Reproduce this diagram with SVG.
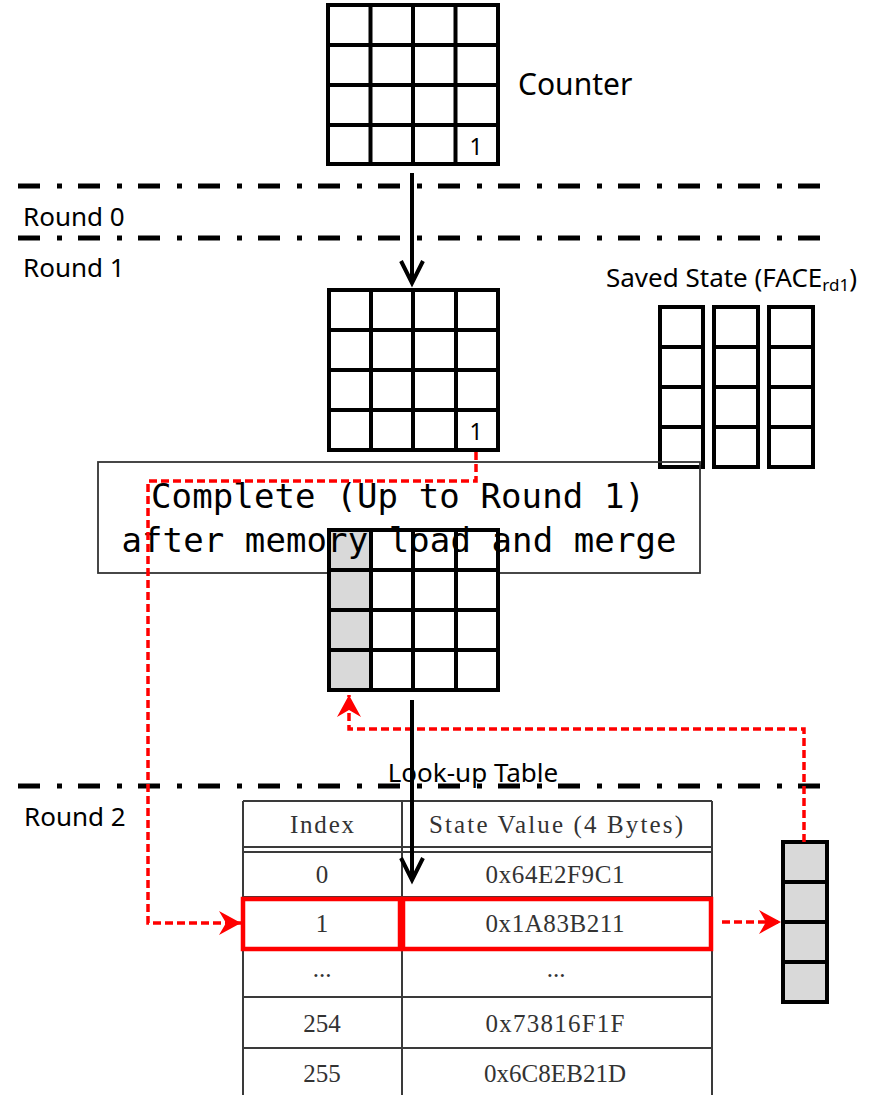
<svg xmlns="http://www.w3.org/2000/svg" width="879" height="1095" viewBox="0 0 879 1095">
<style>
.sep{stroke:#000;stroke-width:5;stroke-dasharray:22 17 5 16;fill:none}
.lbl{font-family:"Noto Sans","Open Sans","Liberation Sans",sans-serif;fill:#000}
.grid{fill:#fff;stroke:#000;stroke-width:4}
.gl{stroke:#000;stroke-width:4;fill:none}
.gray{fill:#d9d9d9}
.mono{font-family:"DejaVu Sans Mono","Liberation Mono",monospace;font-size:34px;fill:#000;text-anchor:middle}
.tl{stroke:#3a3a3a;stroke-width:2;fill:none}
.tt{font-family:"Liberation Serif","DejaVu Serif",serif;font-size:25px;fill:#333;text-anchor:middle}
.red{stroke:#ff0000;stroke-width:3.5;stroke-dasharray:8 4;fill:none;marker-end:url(#ra)}
.blk{stroke:#000;stroke-width:4;fill:none;marker-end:url(#ba)}
.hl{fill:none;stroke:#ff0000;stroke-width:4.5}
</style>
<defs>
<marker id="ba" markerUnits="userSpaceOnUse" viewBox="-30 -15 32 30" markerWidth="32" markerHeight="30" refX="0" refY="0" orient="auto" overflow="visible">
<path d="M-22,-11 L0,0 L-22,11" fill="none" stroke="#000" stroke-width="4"/>
</marker>
<marker id="ra" markerUnits="userSpaceOnUse" viewBox="-30 -15 32 30" markerWidth="32" markerHeight="30" refX="0" refY="0" orient="auto" overflow="visible">
<path d="M0,0 L-22,-12 L-15,0 L-22,12 Z" fill="#ff0000"/>
</marker>
</defs>
<rect width="879" height="1095" fill="#fff"/>

<g id="separators">
<line class="sep" x1="18" y1="186" x2="820" y2="186"/>
<line class="sep" x1="18" y1="238" x2="820" y2="238"/>
<line class="sep" x1="18" y1="786" x2="820" y2="786"/>
</g>

<g id="labels">
<text class="lbl" x="23" y="226" font-size="26">Round 0</text>
<text class="lbl" x="23" y="277" font-size="26">Round 1</text>
<text class="lbl" x="24" y="826" font-size="26">Round 2</text>
</g>

<g id="counter">
<rect class="grid" x="328" y="5" width="170" height="159"/>
<path class="gl" d="M370.5,5V164M413,5V164M455.5,5V164M328,45H498M328,85H498M328,125H498"/>
<text class="lbl" x="476" y="155" font-size="23" text-anchor="middle">1</text>
<text class="lbl" x="518" y="95" font-size="30">Counter</text>
</g>

<g id="state-round1">
<rect class="grid" x="329" y="290" width="169" height="160"/>
<path class="gl" d="M371,290V450M413,290V450M456,290V450M329,330H498M329,370H498M329,410H498"/>
<text class="lbl" x="476" y="440" font-size="23" text-anchor="middle">1</text>
</g>

<g id="saved-state">
<text class="lbl" x="606" y="287" font-size="26">Saved State (FACE<tspan font-size="17" dy="4">rd1</tspan><tspan dy="-4">)</tspan></text>
<rect class="grid" x="660" y="307" width="43" height="160"/>
<path class="gl" d="M660,347H703M660,387H703M660,427H703"/>
<rect class="grid" x="714" y="307" width="44" height="160"/>
<path class="gl" d="M714,347H758M714,387H758M714,427H758"/>
<rect class="grid" x="769" y="307" width="44" height="160"/>
<path class="gl" d="M769,347H813M769,387H813M769,427H813"/>
</g>

<g id="complete-box">
<rect x="98" y="462" width="602" height="111" fill="none" stroke="#333" stroke-width="1.8"/>
</g>

<g id="state-merged">
<rect class="grid" x="329" y="530" width="169" height="160"/>
<rect class="gray" x="329" y="530" width="42" height="160"/>
<path class="gl" d="M329,530H498V690H329ZM371,530V690M413,530V690M456,530V690M329,570H498M329,610H498M329,650H498"/>
</g>

<g id="complete-text">
<text class="mono" x="398" y="508" textLength="494" lengthAdjust="spacing">Complete (Up to Round 1)</text>
<text class="mono" x="399" y="552" textLength="555" lengthAdjust="spacing">after memory load and merge</text>
</g>

<g id="lookup-table">
<text class="lbl" x="473" y="782" font-size="26" text-anchor="middle">Look-up Table</text>
<path class="tl" d="M243,801V1100M402,801V1100M712,801V1100M243,801H712M243,847H712M243,852H712M243,897H712M243,948H712M243,997H712M243,1048H712"/>
<text class="tt" x="322" y="833" textLength="64" lengthAdjust="spacing">Index</text>
<text class="tt" x="556" y="833" textLength="254" lengthAdjust="spacing">State Value (4 Bytes)</text>
<text class="tt" x="322" y="883">0</text>
<text class="tt" x="555" y="883" textLength="139" lengthAdjust="spacing">0x64E2F9C1</text>
<text class="tt" x="322" y="932">1</text>
<text class="tt" x="555" y="932" textLength="139" lengthAdjust="spacing">0x1A83B211</text>
<text class="tt" x="322" y="977" fill="#999">...</text>
<text class="tt" x="556" y="977" fill="#999">...</text>
<text class="tt" x="322" y="1032">254</text>
<text class="tt" x="555" y="1032" textLength="139" lengthAdjust="spacing">0x73816F1F</text>
<text class="tt" x="322" y="1082">255</text>
<text class="tt" x="555" y="1082" textLength="142" lengthAdjust="spacing">0x6C8EB21D</text>
<rect class="hl" x="243" y="899" width="157" height="50"/>
<rect class="hl" x="403" y="899" width="308" height="50"/>
</g>

<g id="output-word">
<rect class="grid" x="783" y="842" width="44" height="160" style="fill:#d9d9d9"/>
<path class="gl" d="M783,882H827M783,922H827M783,962H827"/>
</g>

<g id="connectors">
<path class="red" d="M476,452V481H148V923H241"/>
<path class="red" d="M804,842V729H349V695"/>
<path class="red" d="M722,922H781"/>
<line class="blk" x1="412" y1="173" x2="412" y2="283"/>
<line class="blk" x1="412" y1="700" x2="412" y2="880"/>
</g>
</svg>
